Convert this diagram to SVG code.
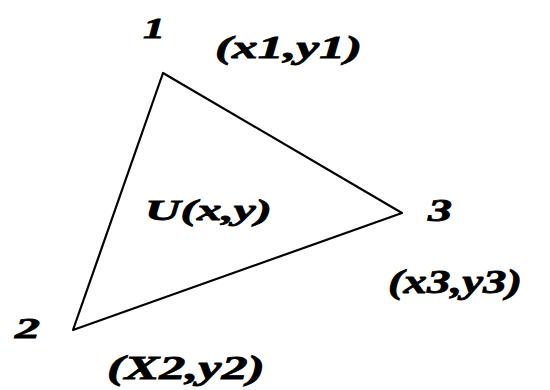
<svg xmlns="http://www.w3.org/2000/svg" width="550" height="390" viewBox="0 0 550 390">
<style>
.t{font-family:"Liberation Serif","DejaVu Serif",serif;font-weight:bold;font-style:italic;fill:#000;stroke:#000;stroke-width:0.8}
.edge{fill:none;stroke:#000;stroke-width:2.2;stroke-linejoin:round}
</style>
<rect width="550" height="390" fill="#fff"/>
<g id="connectors">
<polygon class="edge" points="163,73 402,213 73,330"/>
</g>
<g id="node1">
<text class="t" x="143" y="38" font-size="30" textLength="22" lengthAdjust="spacingAndGlyphs">1</text>
<text class="t" x="215" y="58" font-size="32" textLength="147" lengthAdjust="spacingAndGlyphs">(x1,y1)</text>
</g>
<g id="node3">
<text class="t" x="428" y="221" font-size="31" textLength="24" lengthAdjust="spacingAndGlyphs">3</text>
<text class="t" x="388" y="293" font-size="34" textLength="134" lengthAdjust="spacingAndGlyphs">(x3,y3)</text>
</g>
<g id="node2">
<text class="t" x="15" y="338" font-size="29" textLength="25" lengthAdjust="spacingAndGlyphs">2</text>
<text class="t" x="107" y="379" font-size="34" textLength="158" lengthAdjust="spacingAndGlyphs">(X2,y2)</text>
</g>
<g id="center">
<text class="t" x="145" y="220" font-size="30" textLength="127" lengthAdjust="spacingAndGlyphs">U(x,y)</text>
</g>
</svg>
